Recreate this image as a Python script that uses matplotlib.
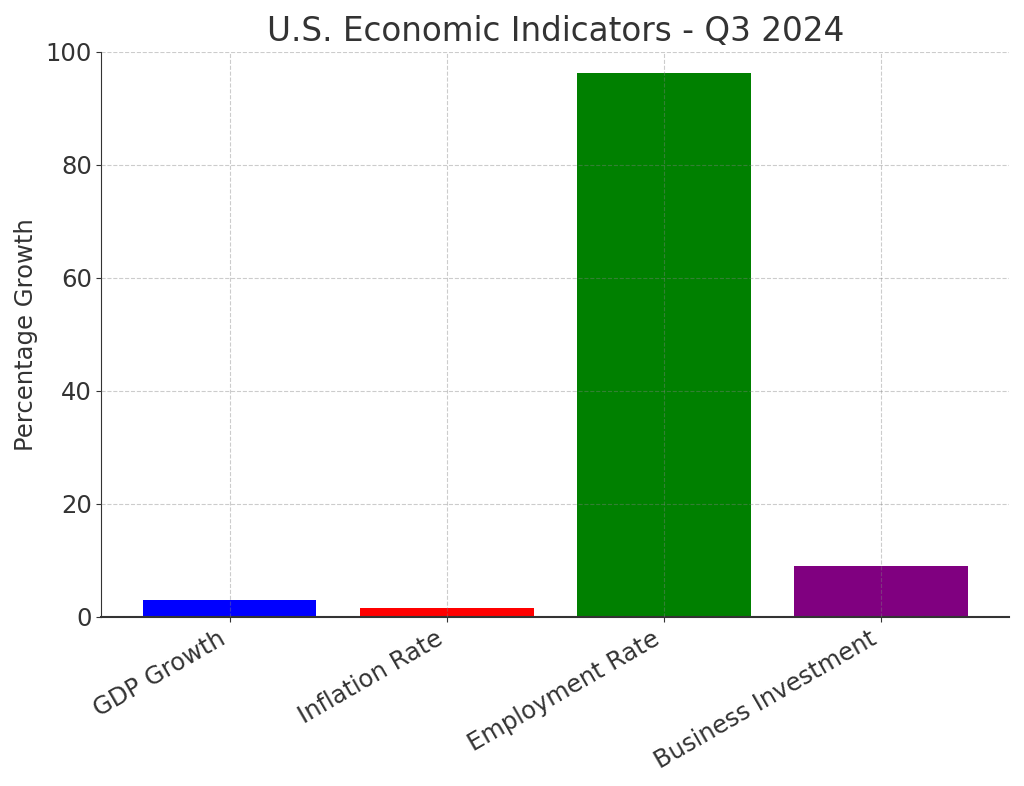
import matplotlib
matplotlib.use("Agg")
import matplotlib.pyplot as plt

categories = ["GDP Growth", "Inflation Rate", "Employment Rate", "Business Investment"]
values = [2.9, 1.6, 96.3, 9.0]
colors = ["blue", "red", "green", "purple"]

plt.rcParams['font.family'] = ['DejaVu Sans']
fig = plt.figure(figsize=(10.24, 7.86), dpi=100)
ax = fig.add_axes([0.0991, 0.2154, 0.8862, 0.7186])
ax.bar(categories, values, color=colors, width=0.8, zorder=2)
ax.set_ylim(0, 100)
ax.set_title("U.S. Economic Indicators - Q3 2024", fontsize=23.5, color="#333333", pad=8)
ax.set_ylabel("Percentage Growth", fontsize=17.5, color="#333333", labelpad=5)
ax.tick_params(axis='both', labelsize=17.5, colors="#333333")
plt.setp(ax.get_xticklabels(), rotation=30, ha='right')
ax.set_axisbelow(False)
ax.grid(True, linestyle='--', color='gray', alpha=0.4, linewidth=0.8)
ax.spines['top'].set_visible(False)
ax.spines['right'].set_visible(False)
ax.spines['left'].set_color('#333333')
ax.spines['bottom'].set_color('#333333')
ax.spines['bottom'].set_linewidth(1.5)
fig.savefig("out.png", dpi=100)
